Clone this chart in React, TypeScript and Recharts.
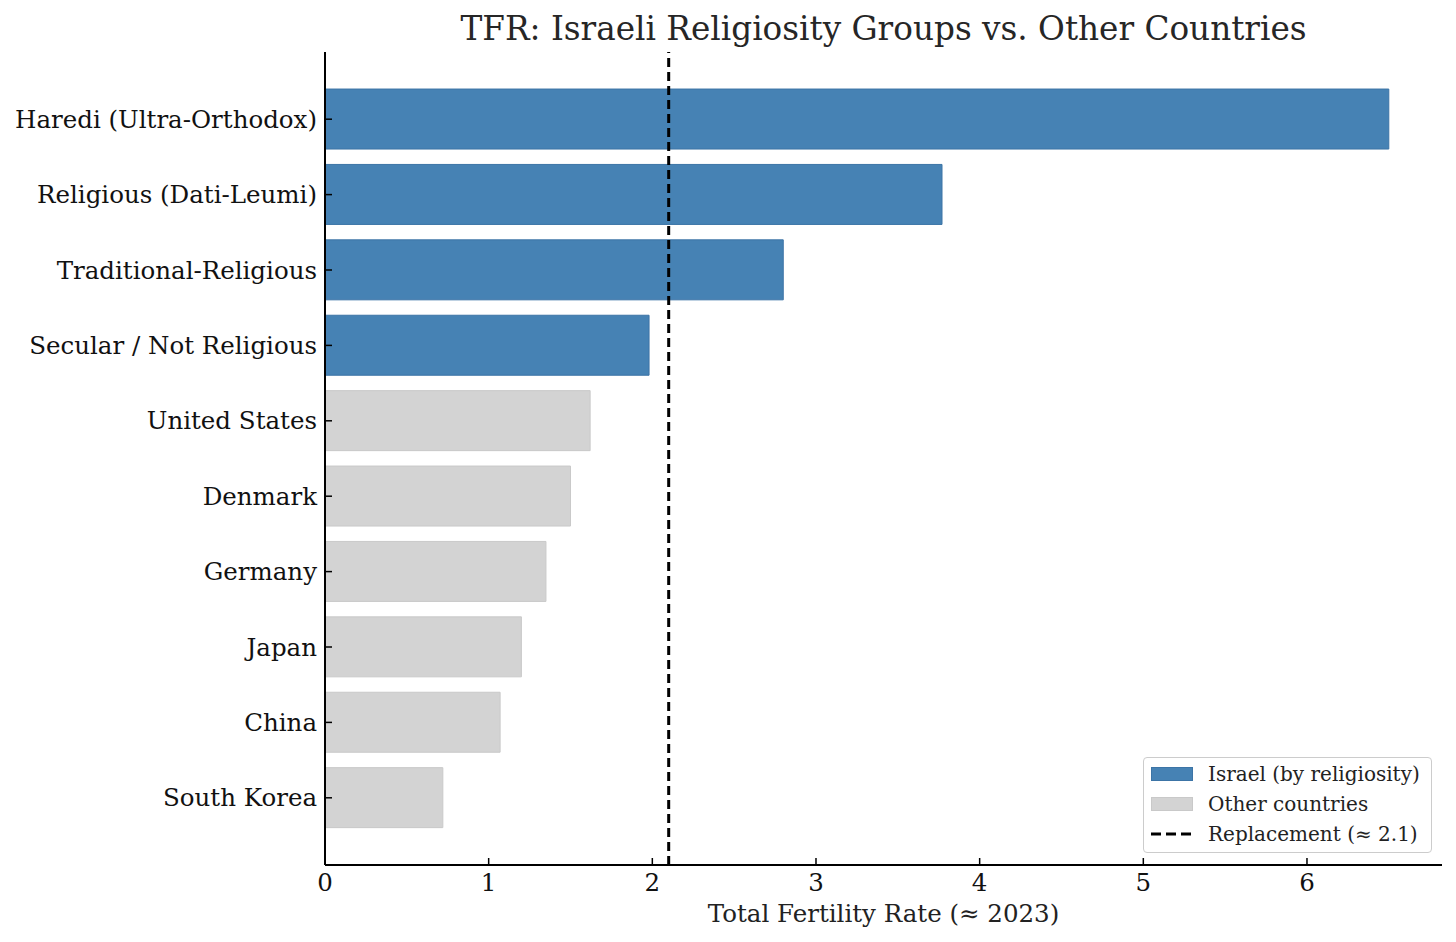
import React from 'react';
import { Bar, BarChart, Cell, ReferenceLine, XAxis, YAxis } from 'recharts';

// categories, top to bottom
const categories = [
  'Haredi (Ultra-Orthodox)',
  'Religious (Dati-Leumi)',
  'Traditional-Religious',
  'Secular / Not Religious',
  'United States',
  'Denmark',
  'Germany',
  'Japan',
  'China',
  'South Korea',
];
const tfrValues = [6.5, 3.77, 2.8, 1.98, 1.62, 1.5, 1.35, 1.2, 1.07, 0.72];
const groups = ['israel', 'israel', 'israel', 'israel', 'other', 'other', 'other', 'other', 'other', 'other'];
const xTicks = [0, 1, 2, 3, 4, 5, 6];
const replacementTfr = 2.1;

const FONT = '"DejaVu Serif", serif';
const COLORS: Record<string, { fill: string; edge: string }> = {
  israel: { fill: '#4682b4', edge: '#3c74a6' },
  other: { fill: '#d3d3d3', edge: '#c9c9c9' },
};

const data = categories.map((name, i) => ({ name, tfr: tfrValues[i], group: groups[i] }));

const LegendBox = () => (
  <div
    style={{
      position: 'absolute',
      left: 1143,
      top: 757,
      width: 287,
      height: 94,
      border: '1px solid #cccccc',
      borderRadius: 4,
      background: 'rgba(255,255,255,0.8)',
      fontFamily: FONT,
      fontSize: 20,
      color: '#222',
    }}
  >
    {[
      { label: 'Israel (by religiosity)', kind: 'israel' },
      { label: 'Other countries', kind: 'other' },
      { label: 'Replacement (\u2248 2.1)', kind: 'line' },
    ].map((row, i) => (
      <div key={row.label} style={{ position: 'absolute', left: 7, top: 4 + i * 30, height: 24, display: 'flex', alignItems: 'center', whiteSpace: 'nowrap' }}>
        <svg width={42} height={16} style={{ marginRight: 15 }}>
          {row.kind === 'line' ? (
            <line x1={0} x2={42} y1={8} y2={8} stroke="#000" strokeWidth={3} strokeDasharray="10 5" />
          ) : (
            <rect x={0.5} y={1.5} width={41} height={13} fill={COLORS[row.kind].fill} stroke={COLORS[row.kind].edge} />
          )}
        </svg>
        <span>{row.label}</span>
      </div>
    ))}
  </div>
);

const App = () => {
  return (
    <div style={{ position: 'absolute', left: 0, top: 0, width: 1456, height: 942, background: '#fff' }}>
      <div
        style={{
          position: 'absolute',
          left: 325,
          width: 1117,
          top: 13,
          textAlign: 'center',
          fontFamily: FONT,
          fontSize: 32.7,
          lineHeight: '33px',
          color: '#262626',
          whiteSpace: 'nowrap',
        }}
      >
        TFR: Israeli Religiosity Groups vs. Other Countries
      </div>
      <BarChart
        width={1456}
        height={942}
        data={data}
        layout="vertical"
        margin={{ top: 52, right: 14, bottom: 0, left: 0 }}
        barCategoryGap="10%"
        style={{ position: 'absolute', left: 0, top: 0 }}
      >
        <XAxis
          type="number"
          domain={[0, 6.825]}
          ticks={xTicks}
          height={77}
          axisLine={{ stroke: '#000', strokeWidth: 2 }}
          tickLine={{ stroke: '#000', strokeWidth: 1.5 }}
          tickSize={-7}
          tickMargin={16}
          tick={{ fontFamily: FONT, fontSize: 24.5, fill: '#111' }}
          label={{ value: 'Total Fertility Rate (\u2248 2023)', position: 'insideBottom', offset: 20, fontFamily: FONT, fontSize: 24.5, fill: '#222' }}
        />
        <YAxis
          type="category"
          dataKey="name"
          width={325}
          interval={0}
          padding={{ top: 29.5, bottom: 29.5 }}
          axisLine={{ stroke: '#000', strokeWidth: 2 }}
          tickLine={{ stroke: '#000', strokeWidth: 1.5 }}
          tickSize={-7}
          tickMargin={15}
          tick={{ fontFamily: FONT, fontSize: 24.5, fill: '#111' }}
        />
        <Bar dataKey="tfr" isAnimationActive={false} strokeWidth={1}>
          {data.map((d) => (
            <Cell key={d.name} fill={COLORS[d.group].fill} stroke={COLORS[d.group].edge} />
          ))}
        </Bar>
        <ReferenceLine x={replacementTfr} stroke="#000" strokeWidth={3} strokeDasharray="9 5" ifOverflow="extendDomain" />
      </BarChart>
      <LegendBox />
    </div>
  );
};

export default App;
